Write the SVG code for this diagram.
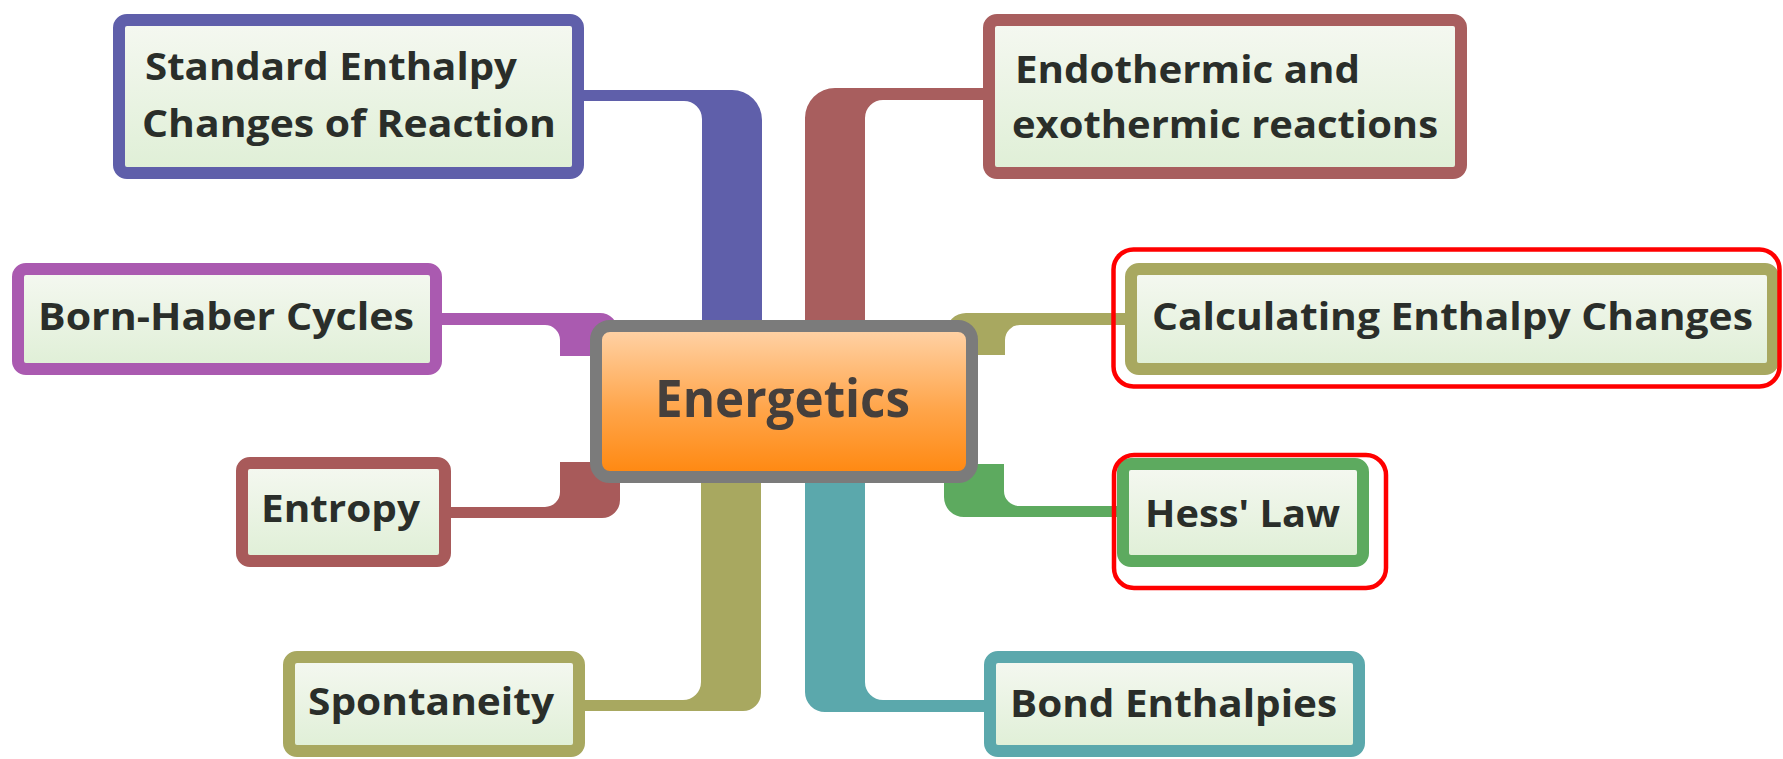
<svg xmlns="http://www.w3.org/2000/svg" width="1783" height="759" viewBox="0 0 1783 759">
<defs>
<linearGradient id="boxFill" x1="0" y1="0" x2="0" y2="1">
<stop offset="0" stop-color="#F5F8F1"/>
<stop offset="1" stop-color="#DFEFD6"/>
</linearGradient>
<linearGradient id="centerFill" x1="0" y1="0" x2="0" y2="1">
<stop offset="0" stop-color="#FFD4AA"/>
<stop offset="0.55" stop-color="#FFA54A"/>
<stop offset="1" stop-color="#FF870E"/>
</linearGradient>
<style>
.box{fill:url(#boxFill);stroke-width:12}
.lbl{font-family:"Open Sans","Liberation Sans",sans-serif;font-weight:700;font-size:38px;fill:#2A2E2A}
.hl{fill:none;stroke:#FF0000;stroke-width:4.5}
</style>
</defs>
<rect width="1783" height="759" fill="#FFFFFF"/>
<g id="connectors">
<path d="M578,90 H732 A30,30 0 0 1 762,120 V335 H702 V119 A18,18 0 0 0 684,101 H578 Z" fill="#5F5FAA"/>
<path d="M990,88 H835 A30,30 0 0 0 805,118 V335 H865 V118 A18,18 0 0 1 883,100 H990 Z" fill="#A85E5E"/>
<path d="M436,313 H600 A18,18 0 0 1 618,331 V356 H560 V340 A15,15 0 0 0 545,325 H436 Z" fill="#AA5AB0"/>
<path d="M445,518 H602 A18,18 0 0 0 620,500 V462 H560 V492 A15,15 0 0 1 545,507 H445 Z" fill="#A85A5A"/>
<path d="M761,478 V693 A18,18 0 0 1 743,711 H580 V700 H683 A18,18 0 0 0 701,682 V478 Z" fill="#A8A860"/>
<path d="M805,478 V692 A20,20 0 0 0 825,712 H990 V700 H883 A18,18 0 0 1 865,682 V478 Z" fill="#5BA8AC"/>
<path d="M944,464 H1004 V491 A15,15 0 0 0 1019,506 H1122 V517 H964 A20,20 0 0 1 944,497 Z" fill="#5DAA5F"/>
<path d="M946,355 V333 A20,20 0 0 1 966,313 H1130 V325 H1020 A15,15 0 0 0 1005,340 V355 Z" fill="#A8A860"/>
</g>
<g id="node-standard">
<rect class="box" x="119" y="20" width="459" height="153" rx="8" stroke="#5F5FAA"/>
<text class="lbl" x="145" y="80" textLength="372" lengthAdjust="spacingAndGlyphs">Standard Enthalpy</text>
<text class="lbl" x="142" y="137" textLength="414" lengthAdjust="spacingAndGlyphs">Changes of Reaction</text>
</g>
<g id="node-endothermic">
<rect class="box" x="989" y="20" width="472" height="153" rx="8" stroke="#A85E5E"/>
<text class="lbl" x="1015" y="83" textLength="345" lengthAdjust="spacingAndGlyphs">Endothermic and</text>
<text class="lbl" x="1012" y="138" textLength="426" lengthAdjust="spacingAndGlyphs">exothermic reactions</text>
</g>
<g id="node-bornhaber">
<rect class="box" x="18" y="269" width="418" height="100" rx="8" stroke="#AA5AB0"/>
<text class="lbl" x="38" y="330" textLength="376" lengthAdjust="spacingAndGlyphs">Born-Haber Cycles</text>
</g>
<g id="node-entropy">
<rect class="box" x="242" y="463" width="203" height="98" rx="8" stroke="#A85A5A"/>
<text class="lbl" x="261" y="522" textLength="159" lengthAdjust="spacingAndGlyphs">Entropy</text>
</g>
<g id="node-spontaneity">
<rect class="box" x="289" y="657" width="290" height="94" rx="8" stroke="#A8A860"/>
<text class="lbl" x="308" y="715" textLength="246" lengthAdjust="spacingAndGlyphs">Spontaneity</text>
</g>
<g id="node-calculating">
<rect class="box" x="1131" y="269" width="642" height="100" rx="8" stroke="#A8A860"/>
<text class="lbl" x="1152" y="330" textLength="601" lengthAdjust="spacingAndGlyphs">Calculating Enthalpy Changes</text>
</g>
<g id="node-hess">
<rect class="box" x="1123" y="464" width="240" height="97" rx="8" stroke="#5DAA5F"/>
<text class="lbl" x="1145" y="527" textLength="195" lengthAdjust="spacingAndGlyphs">Hess' Law</text>
</g>
<g id="node-bond">
<rect class="box" x="990" y="657" width="369" height="94" rx="8" stroke="#5BA8AC"/>
<text class="lbl" x="1010" y="717" textLength="327" lengthAdjust="spacingAndGlyphs">Bond Enthalpies</text>
</g>
<g id="node-energetics">
<rect x="596" y="326" width="376" height="151" rx="14" fill="url(#centerFill)" stroke="#7B7B7B" stroke-width="12"/>
<text x="655" y="417" textLength="255" lengthAdjust="spacingAndGlyphs" font-family="Open Sans, Liberation Sans, sans-serif" font-weight="700" font-size="52" fill="#453F3C">Energetics</text>
</g>
<g id="highlights">
<rect class="hl" x="1113.5" y="249.5" width="666" height="137" rx="20"/>
<rect class="hl" x="1114" y="455" width="272" height="133" rx="20"/>
</g>
</svg>
